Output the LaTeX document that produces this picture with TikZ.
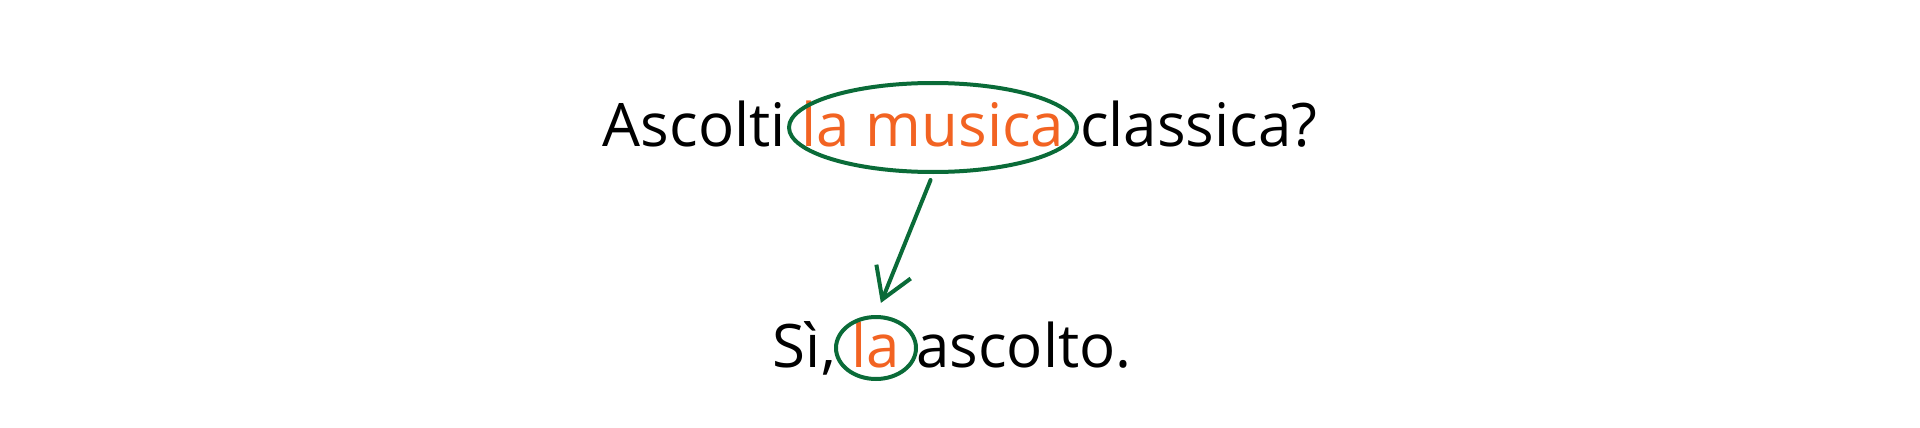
\documentclass[tikz,border=0pt]{standalone}
\usepackage{fontspec}
\setmainfont{Open Sans}
\usetikzlibrary{arrows.meta,shapes.geometric}
\definecolor{ringgreen}{HTML}{0A6B38}
\definecolor{wordorange}{HTML}{F26322}
\begin{document}
\begin{tikzpicture}[x=1pt,y=-1pt,line join=round,line cap=round,
  font=\fontsize{60}{72}\selectfont]
 \tikzset{word/.style={inner sep=0pt,anchor=base},
   hit/.style={word,text=wordorange},
   ring/.style={draw=ringgreen,line width=4pt,ellipse,inner sep=0pt},
   link/.style={draw=ringgreen,line width=4pt,-{Straight Barb[length=30pt,width=37pt]}}}
 \useasboundingbox (0,0) rectangle (1920,428);
 % question
 \node[hit] (mus) at (933,146) {la musica};
 \node[word,anchor=base east] (asc) at (mus.base west) {Ascolti\ \null};
 \node[word,anchor=base west] (cla) at (mus.base east) {\null\ classica?};
 \node[ring,minimum width=288pt,minimum height=89pt] (ringA) at ([yshift=18.5pt]mus.base) {};
 % answer
 \node[hit] (pron) at (876,367) {la};
 \node[word,anchor=base east] (si) at (pron.base west) {Sì,\ \null};
 \node[word,anchor=base west] (asco) at (pron.base east) {\null\ ascolto.};
 \node[ring,minimum width=80pt,minimum height=62pt] (ringB) at ([yshift=19pt]pron.base) {};
 \draw[link,shorten <=6.5pt,shorten >=13pt] (ringA.south) -- (ringB.north);
\end{tikzpicture}
\end{document}
